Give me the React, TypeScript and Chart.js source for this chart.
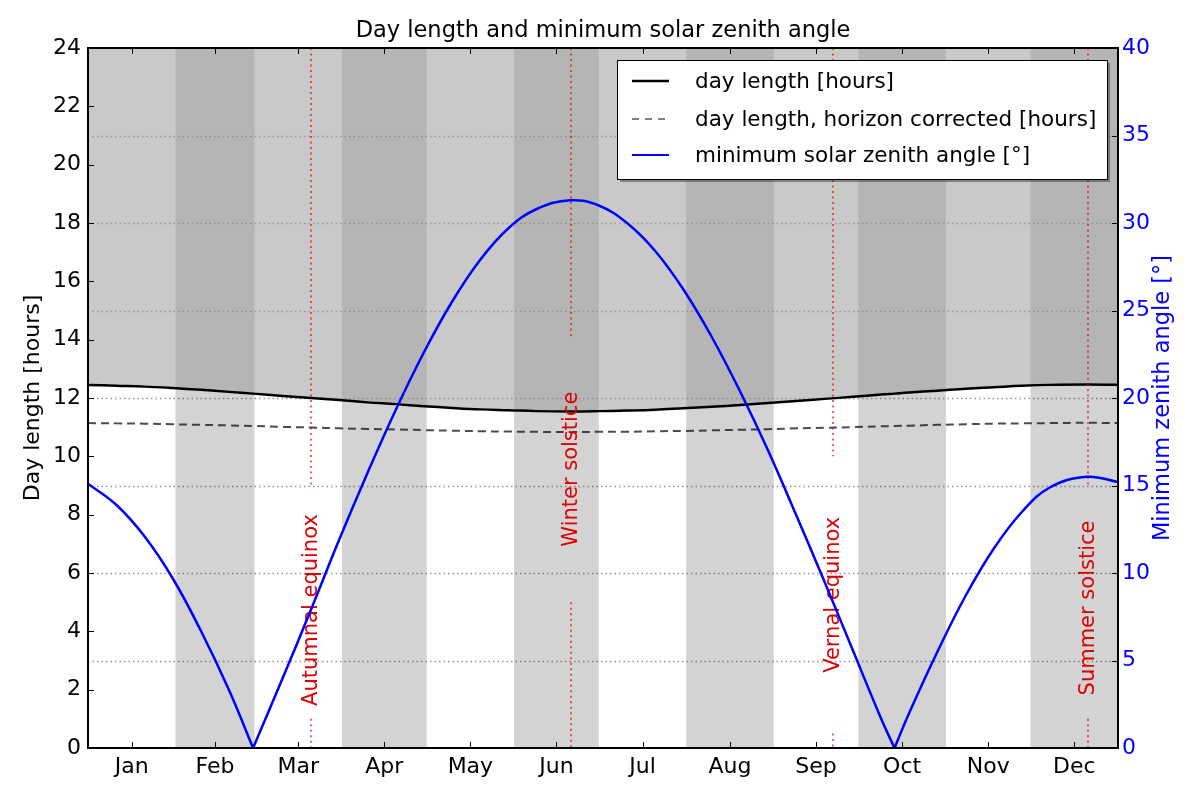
import React, { useEffect, useRef } from 'react';
import { Chart, registerables } from 'chart.js';

Chart.register(...registerables);

// ---- data (day of year, 0 = 1 Jan); the two zenith zero points are listed twice so the curve keeps its sharp V ----
const days = [0, 10, 20, 30, 40, 50, 58.5, 58.5, 69, 79, 89, 99, 109, 119, 129, 139, 149, 159, 171, 181, 191, 201, 211, 221, 231, 241, 251, 261, 271, 281, 285.8, 285.8, 291, 301, 311, 321, 331, 341, 354, 365];
const dayLength = [12.45, 12.42, 12.39, 12.34, 12.28, 12.21, 12.15, 12.15, 12.07, 12.0, 11.93, 11.85, 11.79, 11.72, 11.66, 11.61, 11.58, 11.55, 11.54, 11.55, 11.57, 11.6, 11.65, 11.7, 11.76, 11.83, 11.9, 11.97, 12.04, 12.12, 12.15, 12.15, 12.19, 12.25, 12.32, 12.37, 12.42, 12.45, 12.46, 12.45];
const dayLengthHorizon = [11.14, 11.13, 11.12, 11.1, 11.08, 11.06, 11.04, 11.04, 11.01, 10.99, 10.96, 10.94, 10.92, 10.9, 10.88, 10.86, 10.85, 10.84, 10.83, 10.84, 10.84, 10.86, 10.87, 10.89, 10.91, 10.93, 10.96, 10.98, 11.0, 11.03, 11.04, 11.04, 11.05, 11.08, 11.1, 11.12, 11.13, 11.14, 11.15, 11.14];
const zenithAngle = [15.1, 13.9, 12.1, 9.7, 6.7, 3.3, 0, 0, 4.0, 7.9, 11.9, 15.7, 19.3, 22.6, 25.5, 27.9, 29.7, 30.8, 31.3, 31.0, 30.0, 28.4, 26.2, 23.5, 20.4, 17.0, 13.3, 9.5, 5.6, 1.7, 0, 0, 2.0, 5.5, 8.7, 11.4, 13.5, 14.9, 15.5, 15.2];

const monthLabels = ['Jan', 'Feb', 'Mar', 'Apr', 'May', 'Jun', 'Jul', 'Aug', 'Sep', 'Oct', 'Nov', 'Dec'];
const monthStarts = [0, 31, 59, 90, 120, 151, 181, 212, 243, 273, 304, 334, 365];
const monthMids = [15.5, 45, 74.5, 105, 135.5, 166, 196.5, 227.5, 258, 288.5, 319, 349.5];

// events: label, day, label centre (hours), top segment end (hours), bottom segment start (hours)
const eventLabels = ['Autumnal equinox', 'Winter solstice', 'Vernal equinox', 'Summer solstice'];
const eventDays = [79, 171, 264, 354.5];
const eventLabelCentre = [4.73, 9.56, 5.25, 4.8];
const eventTopEnd = [9, 14, 10, 9];
const eventBottomStart = [1, 5, 0.5, 1];

const zenithGrid = [5, 10, 15, 20, 25, 30, 35];

const legendLabels = ['day length [hours]', 'day length, horizon corrected [hours]', 'minimum solar zenith angle [°]'];

const FONT = '"DejaVu Sans", Verdana, sans-serif';

const decor = {
  id: 'decor',
  beforeDraw(chart: any) {
    const { ctx, chartArea: a, scales } = chart;
    const x = scales.x;
    ctx.save();
    ctx.fillStyle = '#d3d3d3';
    for (let i = 1; i < 12; i += 2) {
      const x0 = x.getPixelForValue(monthStarts[i]);
      const x1 = x.getPixelForValue(monthStarts[i + 1]);
      ctx.fillRect(x0, a.top, x1 - x0, a.bottom - a.top);
    }
    ctx.restore();
  },
  beforeDatasetsDraw(chart: any) {
    const { ctx, chartArea: a, scales } = chart;
    const y1 = scales.y1;
    ctx.save();
    ctx.strokeStyle = 'rgba(60,60,60,0.55)';
    ctx.lineWidth = 1.3;
    ctx.setLineDash([1.5, 3]);
    for (const v of zenithGrid) {
      const py = Math.round(y1.getPixelForValue(v)) + 0.5;
      ctx.beginPath();
      ctx.moveTo(a.left, py);
      ctx.lineTo(a.right, py);
      ctx.stroke();
    }
    ctx.restore();
  },
  beforeDatasetDraw(chart: any, args: any) {
    if (args.index !== 0) return;
    const { ctx, chartArea: a, scales } = chart;
    const x = scales.x;
    const y = scales.y;
    ctx.save();
    for (let i = 0; i < eventDays.length; i++) {
      const px = Math.round(x.getPixelForValue(eventDays[i]));
      ctx.strokeStyle = 'rgba(225,0,0,0.6)';
      ctx.lineWidth = 2;
      ctx.setLineDash([2, 3.5]);
      ctx.beginPath();
      ctx.moveTo(px, a.top);
      ctx.lineTo(px, y.getPixelForValue(eventTopEnd[i]));
      ctx.moveTo(px, y.getPixelForValue(eventBottomStart[i]));
      ctx.lineTo(px, a.bottom);
      ctx.stroke();
      ctx.setLineDash([]);
      ctx.save();
      ctx.translate(px, y.getPixelForValue(eventLabelCentre[i]));
      ctx.rotate(-Math.PI / 2);
      ctx.fillStyle = '#dd0000';
      ctx.font = `21px ${FONT}`;
      ctx.textAlign = 'center';
      ctx.textBaseline = 'middle';
      ctx.fillText(eventLabels[i], 0, 1);
      ctx.restore();
    }
    ctx.restore();
  },
  afterDatasetsDraw(chart: any) {
    const { ctx, chartArea: a, scales } = chart;
    const { x, y, y1 } = scales;
    ctx.save();
    // ticks (inside)
    ctx.strokeStyle = '#000';
    ctx.lineWidth = 1;
    const tl = 6;
    ctx.beginPath();
    for (const t of x.ticks) {
      const px = Math.round(x.getPixelForValue(t.value)) + 0.5;
      ctx.moveTo(px, a.bottom);
      ctx.lineTo(px, a.bottom - tl);
      ctx.moveTo(px, a.top);
      ctx.lineTo(px, a.top + tl);
    }
    for (const t of y.ticks) {
      const py = Math.round(y.getPixelForValue(t.value)) + 0.5;
      ctx.moveTo(a.left, py);
      ctx.lineTo(a.left + tl, py);
    }
    for (const t of y1.ticks) {
      const py = Math.round(y1.getPixelForValue(t.value)) + 0.5;
      ctx.moveTo(a.right, py);
      ctx.lineTo(a.right - tl, py);
    }
    ctx.stroke();
    // frame
    ctx.lineWidth = 2;
    ctx.strokeRect(a.left, a.top, a.right - a.left, a.bottom - a.top);

    // title
    ctx.fillStyle = '#000';
    ctx.font = `22.5px ${FONT}`;
    ctx.textAlign = 'center';
    ctx.textBaseline = 'middle';
    ctx.fillText('Day length and minimum solar zenith angle', (a.left + a.right) / 2, 31);

    // axis titles
    const cy = (a.top + a.bottom) / 2;
    ctx.save();
    ctx.translate(33, cy);
    ctx.rotate(-Math.PI / 2);
    ctx.font = `22px ${FONT}`;
    ctx.fillStyle = '#000';
    ctx.fillText('Day length [hours]', 0, 0);
    ctx.restore();
    ctx.save();
    ctx.translate(1163, cy);
    ctx.rotate(-Math.PI / 2);
    ctx.font = `22.5px ${FONT}`;
    ctx.fillStyle = '#0000ff';
    ctx.fillText('Minimum zenith angle [°]', 0, 0);
    ctx.restore();

    // legend
    const lx = 617, ly = 60, lw = 490, lh = 119;
    ctx.fillStyle = 'rgba(0,0,0,0.35)';
    ctx.fillRect(lx + 3, ly + 3, lw, lh);
    ctx.fillStyle = '#fff';
    ctx.fillRect(lx, ly, lw, lh);
    ctx.strokeStyle = '#000';
    ctx.lineWidth = 1;
    ctx.strokeRect(lx + 0.5, ly + 0.5, lw, lh);
    const rows = [81, 119, 155];
    const sample = [
      { color: '#000', width: 2.5, dash: [] as number[] },
      { color: 'rgba(0,0,0,0.5)', width: 2, dash: [7, 6] },
      { color: '#0000ff', width: 2, dash: [] as number[] },
    ];
    ctx.font = `21.5px ${FONT}`;
    ctx.textAlign = 'left';
    ctx.textBaseline = 'middle';
    for (let i = 0; i < 3; i++) {
      ctx.strokeStyle = sample[i].color;
      ctx.lineWidth = sample[i].width;
      ctx.setLineDash(sample[i].dash);
      ctx.beginPath();
      ctx.moveTo(632, rows[i]);
      ctx.lineTo(669, rows[i]);
      ctx.stroke();
      ctx.setLineDash([]);
      ctx.fillStyle = '#000';
      ctx.fillText(legendLabels[i], 695, rows[i] + 1);
    }
    ctx.restore();
  },
};

export default function App() {
  const ref = useRef<HTMLCanvasElement | null>(null);
  useEffect(() => {
    if (!ref.current) return;
    const pts = (vals: number[]) => days.map((d, i) => ({ x: d, y: vals[i] }));
    const tickFont = { family: FONT, size: 22 };
    const chart = new Chart(ref.current, {
      type: 'line',
      data: {
        datasets: [
          {
            label: legendLabels[2],
            data: pts(zenithAngle),
            yAxisID: 'y1',
            borderColor: '#0000ff',
            borderWidth: 2.5,
            pointRadius: 0,
            fill: false,
          },
          {
            label: legendLabels[1],
            data: pts(dayLengthHorizon),
            yAxisID: 'y',
            borderColor: 'rgba(0,0,0,0.7)',
            borderWidth: 2,
            borderDash: [8, 5],
            pointRadius: 0,
            fill: false,
          },
          {
            label: legendLabels[0],
            data: pts(dayLength),
            yAxisID: 'y',
            borderColor: '#000',
            borderWidth: 2.5,
            pointRadius: 0,
            fill: 'end',
            backgroundColor: 'rgba(156,156,156,0.545)',
          },
        ],
      },
      options: {
        responsive: false,
        animation: false,
        layout: { padding: { top: 48, left: 0, right: 0, bottom: 0 } },
        plugins: {
          legend: { display: false },
          title: { display: false },
          tooltip: { enabled: false },
        },
        elements: { line: { tension: 0.4 }, point: { radius: 0 } },
        scales: {
          x: {
            type: 'linear',
            min: 0,
            max: 365,
            afterBuildTicks: (s: any) => {
              s.ticks = monthMids.map((v) => ({ value: v }));
            },
            afterFit: (s: any) => {
              s.height = 55;
            },
            ticks: {
              autoSkip: false,
              maxRotation: 0,
              minRotation: 0,
              padding: 6,
              color: '#000',
              font: tickFont,
              callback: (_v: any, i: number) => monthLabels[i],
            },
            grid: { display: false, drawTicks: false },
            border: { display: false },
          },
          y: {
            position: 'left',
            min: 0,
            max: 24,
            afterFit: (s: any) => {
              s.width = 88;
            },
            ticks: { stepSize: 2, padding: 7, color: '#000', font: tickFont },
            grid: { display: false, drawTicks: false },
            border: { display: false },
          },
          y1: {
            position: 'right',
            min: 0,
            max: 40,
            afterFit: (s: any) => {
              s.width = 82;
            },
            ticks: { stepSize: 5, padding: 4, color: '#0000ff', font: tickFont },
            grid: { display: false, drawTicks: false },
            border: { display: false },
          },
        },
      } as any,
      plugins: [decor],
    });
    return () => chart.destroy();
  }, []);
  return (
    <div style={{ position: 'absolute', left: 0, top: 0, width: 1200, height: 803, background: '#fff' }}>
      <canvas ref={ref} width={1200} height={803} style={{ display: 'block' }} />
    </div>
  );
}
